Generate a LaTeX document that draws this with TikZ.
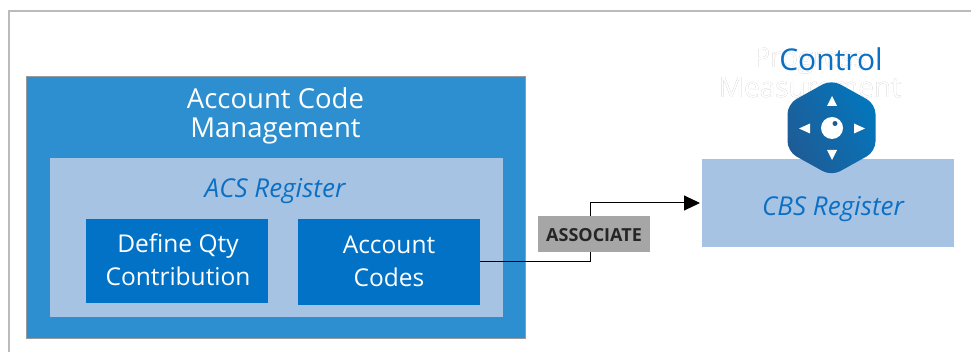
\documentclass[tikz,border=0pt]{standalone}
\usepackage{fontspec}
\setmainfont{Open Sans}
\usepackage[outline]{contour}
\contourlength{0.4pt}
\usetikzlibrary{arrows.meta}
\definecolor{outerblue}{HTML}{2E8FD0}
\definecolor{lightblue}{HTML}{A6C3E4}
\definecolor{darkblue}{HTML}{0272C6}
\definecolor{textblue}{HTML}{0B70C4}
\definecolor{framegray}{HTML}{B8BCBE}
\definecolor{edgegray}{HTML}{9A9A9A}
\definecolor{labelgray}{HTML}{A6A6A6}
\definecolor{hexdark}{HTML}{1E5C96}
\definecolor{hexlight}{HTML}{0476BC}
\tikzset{
  x=1pt,y=-1pt,
  box/.style={anchor=north west,inner sep=0pt,outer sep=0pt},
  outerbox/.style={box,fill=outerblue,draw=edgegray,line width=1pt},
  lightbox/.style={box,fill=lightblue},
  darkbox/.style={box,fill=darkblue},
  white text/.style={text=white,font=\fontsize{27.5}{29}\selectfont,align=center},
  inner text/.style={text=white,font=\fontsize{24.5}{33}\selectfont,align=center},
  ital text/.style={text=textblue,font=\fontsize{26}{30}\selectfont\itshape},
  link/.style={draw=black,line width=1pt}
}
\begin{document}
\begin{tikzpicture}
\useasboundingbox (0,0) rectangle (971,352);
\fill[white] (0,0) rectangle (971,352);
% frame
\draw[framegray,line width=2pt] (9,352) -- (9,11) -- (971,11);
% left block
\node[outerbox,minimum width=499pt,minimum height=261pt] (outer) at (26.5,77) {};
\node[white text] (title) at (275.5,116) {Account Code\\Management};
\node[lightbox,minimum width=453pt,minimum height=159pt] (acs) at (50,158) {};
\node[ital text] (acslabel) at (275,191) {ACS Register};
\node[darkbox,minimum width=182pt,minimum height=84pt] (qty) at (86,219) {};
\node[inner text] (qtylabel) at (178,260) {Define Qty\\Contribution};
\node[darkbox,minimum width=182pt,minimum height=86pt] (codes) at (298,219) {};
\node[inner text] (codeslabel) at (389,261) {Account\\Codes};
% right block
\node[lightbox,minimum width=252pt,minimum height=88pt] (cbs) at (702,159) {};
\node[ital text] (cbslabel) at (833,209) {CBS Register};
% ghost and heading text
\node[font=\fontsize{28}{30}\selectfont,align=center] (ghost) at (810,73) {\contour{black!35}{\textcolor{white}{Progress}}\\\contour{black!35}{\textcolor{white}{Measurement}}};
\node[text=textblue,font=\fontsize{30}{30}\selectfont] (control) at (831,59) {Control};
% hexagon icon
\shade[shading=axis,top color=hexlight,bottom color=hexdark,shading angle=-60,rounded corners=10pt]
  (831.5,79.5) -- (875.5,104) -- (875.5,151.5) -- (831.5,176) -- (787.5,151.5) -- (787.5,104) -- cycle;
\fill[white] (832,128) circle (11pt);
\fill[hexdark] (835,123.5) circle (2.5pt);
\fill[white] (832,96) -- (837,106) -- (827,106) -- cycle;
\fill[white] (832,160) -- (837,150) -- (827,150) -- cycle;
\fill[white] (799,128.5) -- (810,123.5) -- (810,133.5) -- cycle;
\fill[white] (865,128.5) -- (854,123.5) -- (854,133.5) -- cycle;
% connector
\coordinate (bend) at (590,232);
\draw[link,-{Triangle[length=16pt,width=15pt]},shorten >=2pt] (codes.east) -| (bend) |- (cbs.west);
\node[box,fill=labelgray,minimum width=112pt,minimum height=36pt] (assoc) at (538,216) {};
\node[text=black!85,font=\fontsize{18}{20}\selectfont\bfseries] (assoclabel) at (594,235) {ASSOCIATE};
\end{tikzpicture}
\end{document}
